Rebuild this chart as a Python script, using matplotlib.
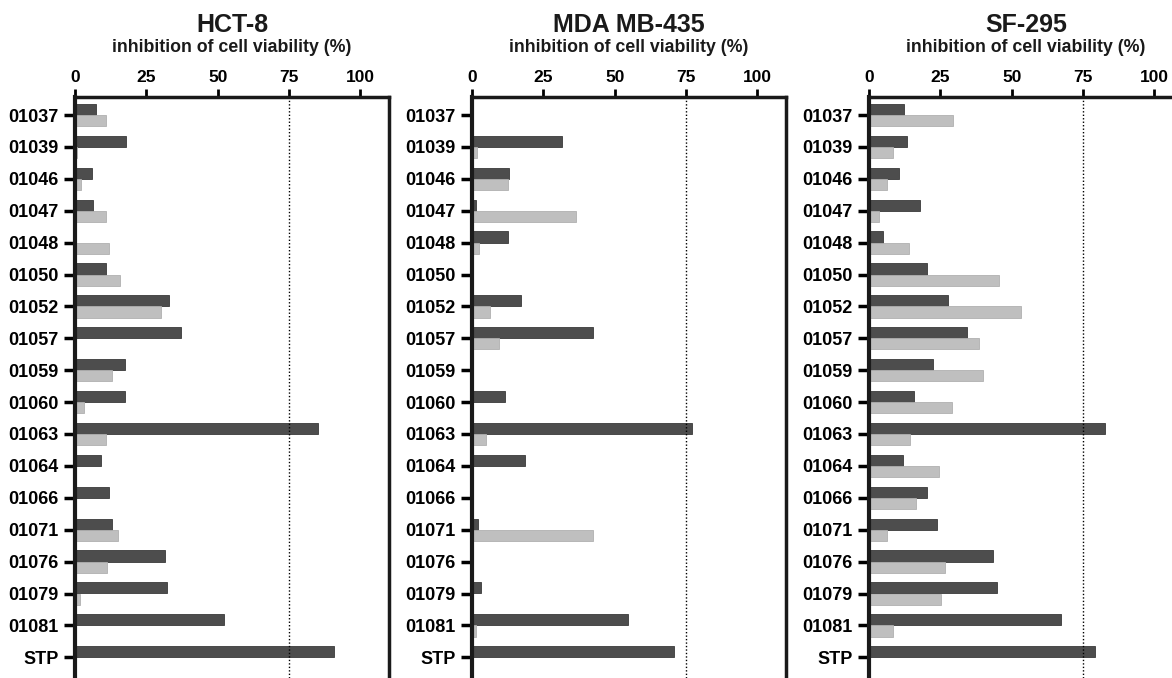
import matplotlib
matplotlib.use("Agg")
import matplotlib.pyplot as plt
import numpy as np

plt.rcParams['font.family'] = ['Liberation Sans', 'DejaVu Sans']
plt.rcParams['font.weight'] = 'bold'

# composes testés
compounds = ["01037", "01039", "01046", "01047", "01048", "01050", "01052",
             "01057", "01059", "01060", "01063", "01064", "01066", "01071",
             "01076", "01079", "01081", "STP"]

# lignées cellulaires
cell_lines = ["HCT-8", "MDA MB-435", "SF-295"]

# inhibition (%) - barres foncées
hct8_dark = [7.2, 17.7, 6.1, 6.2, 0, 11.0, 33.1, 37.3, 17.6, 17.4, 85.1,
             9.0, 11.8, 12.9, 31.4, 32.2, 52.3, 90.8]
mda_dark = [0, 31.6, 13.0, 1.5, 12.6, 0, 17.2, 42.4, 0, 11.6, 77.0,
            18.4, 0, 2.1, 0, 3.0, 54.7, 70.9]
sf295_dark = [12.3, 13.2, 10.4, 18.0, 4.8, 20.4, 27.7, 34.2, 22.5, 15.6, 82.7,
              11.9, 20.4, 23.9, 43.5, 45.0, 67.1, 79.3]

# inhibition (%) - barres claires
hct8_light = [11.0, 0.8, 2.1, 10.7, 11.8, 15.9, 30.3, 0, 12.8, 3.3, 11.0,
              0.3, 0.3, 15.0, 11.1, 1.7, 0, 0]
mda_light = [0.3, 1.8, 12.5, 36.6, 2.3, 0.3, 6.4, 9.6, 0.3, 0, 5.0,
             0, 0.3, 42.5, 0.3, 0, 1.4, 0]
sf295_light = [29.6, 8.3, 6.4, 3.4, 14.0, 45.6, 53.2, 38.6, 39.8, 29.2, 14.2,
               24.6, 16.3, 6.2, 26.6, 25.1, 8.3, 0]

x_ticks = [0, 25, 50, 75, 100]
threshold = 75

dark_values = [hct8_dark, mda_dark, sf295_dark]
light_values = [hct8_light, mda_light, sf295_light]

W, H = 1172, 678
fig = plt.figure(figsize=(W / 100, H / 100), dpi=100)

# positions des axes en pixels (gauche, droite)
lefts = [75, 472, 869]
width_px = 314
top_px = 97
row0_px = 115
row_step = 31.9

y = np.arange(len(compounds))
bar_h = 0.35

for i, name in enumerate(cell_lines):
    ax = fig.add_axes([lefts[i] / W, 0, width_px / W, 1 - top_px / H])
    ax.barh(y - bar_h / 2, dark_values[i], height=bar_h, color="#4d4d4d",
            edgecolor="#3a3a3a", linewidth=0.6)
    ax.barh(y + bar_h / 2, light_values[i], height=bar_h, color="#bfbfbf",
            edgecolor="#b0b0b0", linewidth=0.6)
    ax.axvline(threshold, color="black", linestyle=(0, (1, 1.5)), linewidth=1)

    ax.set_xlim(0, 110)
    y_top = -(row0_px - top_px) / row_step
    y_bot = (H - row0_px) / row_step
    ax.set_ylim(y_bot, y_top)

    ax.xaxis.tick_top()
    ax.set_xticks(x_ticks)
    ax.set_xticklabels([str(t) for t in x_ticks], fontsize=12.5, fontweight='bold')
    ax.set_yticks(y)
    ax.set_yticklabels(compounds, fontsize=13, fontweight='bold')
    ax.tick_params(axis='x', direction='out', length=6, width=2, pad=3)
    ax.tick_params(axis='y', direction='out', length=8, width=2.5, pad=4)

    ax.spines['bottom'].set_visible(False)
    ax.spines['left'].set_linewidth(3)
    ax.spines['top'].set_linewidth(2.5)
    ax.spines['right'].set_linewidth(2.5)
    for s in ax.spines.values():
        s.set_color("#1a1a1a")

    cx = (lefts[i] + width_px / 2) / W
    fig.text(cx, 1 - 25 / H, name, ha='center', va='center', fontsize=18,
             fontweight='bold', color="#1a1a1a")
    fig.text(cx, 1 - 47 / H, "inhibition of cell viability (%)", ha='center',
             va='center', fontsize=12.8, fontweight='bold', color="#1a1a1a")

fig.savefig("out.png", dpi=100)
